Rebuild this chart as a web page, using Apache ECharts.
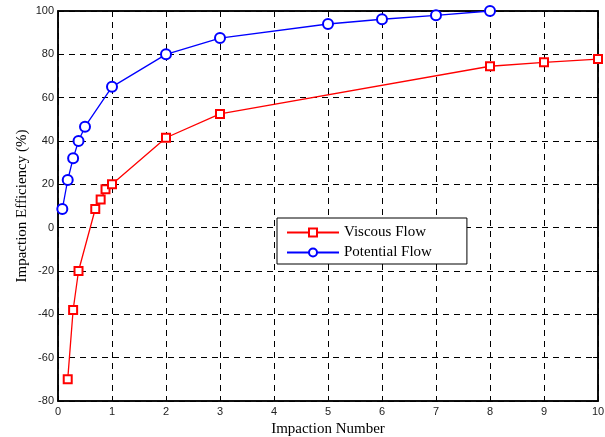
<!DOCTYPE html>
<html><head><meta charset="utf-8">
<script src="https://cdn.jsdelivr.net/npm/echarts@6/dist/echarts.min.js"></script>
<style>html,body{margin:0;padding:0;background:#fff}#c{width:605px;height:437px}</style>
</head><body><div id="c"></div>
<script>
const viscousX = [0.18, 0.28, 0.38, 0.69, 0.79, 0.88, 1, 2, 3, 8, 9, 10];
const viscousY = [-70, -38, -20, 8.6, 13, 17.7, 20, 41.5, 52.5, 74.5, 76.3, 77.8];
const potentialX = [0.08, 0.18, 0.28, 0.38, 0.5, 1, 2, 3, 5, 6, 7, 8];
const potentialY = [8.6, 22, 32, 40, 46.6, 65, 80, 87.5, 94, 96.2, 98, 100];
const xTicks = [0,1,2,3,4,5,6,7,8,9,10];
const yTicks = [-80,-60,-40,-20,0,20,40,60,80,100];

const chart = echarts.init(document.getElementById('c'), null, {renderer:'canvas'});
const pair = (xs, ys) => xs.map((x,i)=>[x, ys[i]]);
const tickFont = {fontFamily:'Liberation Sans, Arial, sans-serif', fontSize:11, color:'#222'};
const axisLine = {show:true, onZero:false, lineStyle:{color:'#000', width:1.5}};
const tick = {show:true, inside:true, length:5, lineStyle:{color:'#000'}};
const grid = {show:true, lineStyle:{color:'#000', type:[6,5], width:1}};
chart.setOption({
  animation:false,
  backgroundColor:'#fff',
  grid:{left:58, right:7, top:11, bottom:36, show:true, borderColor:'#000', borderWidth:1.5,
    containLabel:false, outerBoundsMode:'none'},
  xAxis:[{type:'value', min:xTicks[0], max:xTicks[xTicks.length-1], interval:1,
    name:'Impaction Number', nameLocation:'middle', nameGap:20,
    nameTextStyle:{fontFamily:'Liberation Serif, Times New Roman, serif', fontSize:15, color:'#000'},
    axisLine:axisLine, axisTick:tick,
    axisLabel:Object.assign({margin:5}, tickFont),
    splitLine:grid},
    {type:'value', position:'top', min:0, max:10, interval:1,
    axisLine:axisLine, axisTick:tick, axisLabel:{show:false}, splitLine:{show:false}}],
  yAxis:[{type:'value', min:yTicks[0], max:yTicks[yTicks.length-1], interval:20,
    name:'Impaction Efficiency (%)', nameLocation:'middle', nameGap:28, nameMoveOverlap:false,
    nameTextStyle:{fontFamily:'Liberation Serif, Times New Roman, serif', fontSize:15, color:'#000'},
    axisLine:axisLine, axisTick:tick,
    axisLabel:Object.assign({margin:4}, tickFont),
    splitLine:grid},
    {type:'value', position:'right', min:-80, max:100, interval:20,
    axisLine:axisLine, axisTick:tick, axisLabel:{show:false}, splitLine:{show:false}}],
  legend:{left:277, top:218, orient:'vertical', itemWidth:52, itemHeight:10, itemGap:5,
    padding:[7,35,4,9], borderColor:'#000', borderWidth:1, backgroundColor:'#fff',
    textStyle:{fontFamily:'Liberation Serif, Times New Roman, serif', fontSize:15, color:'#000'},
    data:['Viscous Flow','Potential Flow']},
  series:[
    {name:'Viscous Flow', type:'line', data:pair(viscousX, viscousY), symbol:'emptyRect', symbolSize:8,
     itemStyle:{color:'#ff0000', borderWidth:1.5}, lineStyle:{color:'#ff0000', width:1.3}},
    {name:'Potential Flow', type:'line', data:pair(potentialX, potentialY), symbol:'emptyCircle', symbolSize:10,
     itemStyle:{color:'#0000ff', borderWidth:1.5}, lineStyle:{color:'#0000ff', width:1.3}}
  ]
});
</script></body></html>
